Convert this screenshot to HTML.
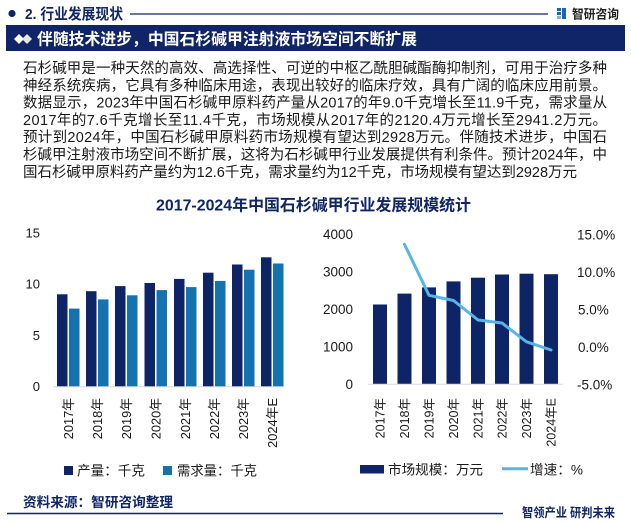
<!DOCTYPE html>
<html><head><meta charset="utf-8"><style>
html,body{margin:0;padding:0;background:#fff;}
svg{display:block;}
text{font-family:"Liberation Sans","Noto Sans CJK SC",sans-serif;}
</style></head><body>
<svg width="631" height="522" viewBox="0 0 631 522" xmlns="http://www.w3.org/2000/svg">
<rect width="631" height="522" fill="#fff"/>
<!-- header -->
<circle cx="12" cy="13.5" r="3.6" fill="#0f2567"/>
<text x="25" y="19" font-size="15" font-weight="bold" fill="#0f2567" textLength="98" lengthAdjust="spacingAndGlyphs">2. 行业发展现状</text>
<line x1="130" y1="14" x2="548" y2="14" stroke="#0f2567" stroke-width="1.3"/>
<g>
<rect x="557" y="8" width="4" height="3" fill="#1a66b5"/>
<rect x="557" y="12" width="4" height="3" fill="#1a66b5"/>
<rect x="557" y="16" width="4" height="3" fill="#7fb7e6"/>
<rect x="562" y="8" width="4" height="11" fill="#1a66b5"/>
</g>
<text x="572" y="18.5" font-size="12.5" font-weight="bold" fill="#222" textLength="47" lengthAdjust="spacingAndGlyphs">智研咨询</text>
<rect x="6" y="25" width="619" height="26" fill="#0f2567"/>
<polygon points="14,39 19,34 24,39 19,44" fill="#fff"/>
<polygon points="22,39 27,34 32,39 27,44" fill="#e6e6e6"/>
<text x="37" y="44.5" font-size="16" font-weight="bold" fill="#fff" textLength="380" lengthAdjust="spacingAndGlyphs">伴随技术进步，中国石杉碱甲注射液市场空间不断扩展</text>
<!-- paragraph -->
<g font-size="14.5" fill="#1a1a1a">
<text x="23" y="73" textLength="584" lengthAdjust="spacing">石杉碱甲是一种天然的高效、高选择性、可逆的中枢乙酰胆碱酯酶抑制剂，可用于治疗多种</text>
<text x="23" y="90.3" textLength="584" lengthAdjust="spacing">神经系统疾病，它具有多种临床用途，表现出较好的临床疗效，具有广阔的临床应用前景。</text>
<text x="23" y="107.6" textLength="584" lengthAdjust="spacing">数据显示，2023年中国石杉碱甲原料药产量从2017的年9.0千克增长至11.9千克，需求量从</text>
<text x="23" y="124.9" textLength="584" lengthAdjust="spacing">2017年的7.6千克增长至11.4千克，市场规模从2017年的2120.4万元增长至2941.2万元。</text>
<text x="23" y="142.2" textLength="584" lengthAdjust="spacing">预计到2024年，中国石杉碱甲原料药市场规模有望达到2928万元。伴随技术进步，中国石</text>
<text x="23" y="159.5" textLength="584" lengthAdjust="spacing">杉碱甲注射液市场空间不断扩展，这将为石杉碱甲行业发展提供有利条件。预计2024年，中</text>
<text x="23" y="176.8" textLength="554" lengthAdjust="spacing">国石杉碱甲原料药产量约为12.6千克，需求量约为12千克，市场规模有望达到2928万元</text>
</g>
<!-- chart title -->
<text x="156" y="210.5" font-size="16" font-weight="bold" fill="#0f2567" textLength="315" lengthAdjust="spacingAndGlyphs">2017-2024年中国石杉碱甲行业发展规模统计</text>

<!-- left chart -->
<g font-size="13" fill="#1a1a1a" text-anchor="end">
<text x="40" y="391">0</text>
<text x="40" y="339.8">5</text>
<text x="40" y="288.5">10</text>
<text x="40" y="237.3">15</text>
</g>
<g fill="#0d2466">
<rect x="57" y="294.3" width="10.5" height="92.2"/>
<rect x="86" y="291.2" width="10.5" height="95.3"/>
<rect x="115" y="286.1" width="10.5" height="100.4"/>
<rect x="144.5" y="283" width="10.5" height="103.5"/>
<rect x="174" y="278.9" width="10.5" height="107.6"/>
<rect x="203" y="272.7" width="10.5" height="113.8"/>
<rect x="232" y="264.5" width="10.5" height="122"/>
<rect x="261" y="257.3" width="10.5" height="129.2"/>
</g>
<g fill="#1472b1">
<rect x="69" y="308.6" width="10.5" height="77.9"/>
<rect x="98" y="299.4" width="10.5" height="87.1"/>
<rect x="127" y="295.3" width="10.5" height="91.2"/>
<rect x="156.5" y="290.1" width="10.5" height="96.4"/>
<rect x="186" y="287.1" width="10.5" height="99.4"/>
<rect x="215" y="280.9" width="10.5" height="105.6"/>
<rect x="244" y="269.7" width="10.5" height="116.8"/>
<rect x="273" y="263.5" width="10.5" height="123"/>
</g>
<line x1="53" y1="386.8" x2="284" y2="386.8" stroke="#d9d9d9" stroke-width="1"/>
<g font-size="12.8" fill="#1a1a1a" text-anchor="end">
<text transform="translate(72.8,398) rotate(-90)">2017年</text>
<text transform="translate(101.8,398) rotate(-90)">2018年</text>
<text transform="translate(130.8,398) rotate(-90)">2019年</text>
<text transform="translate(160.3,398) rotate(-90)">2020年</text>
<text transform="translate(189.8,398) rotate(-90)">2021年</text>
<text transform="translate(218.8,398) rotate(-90)">2022年</text>
<text transform="translate(247.8,398) rotate(-90)">2023年</text>
<text transform="translate(276.8,398) rotate(-90)">2024年E</text>
</g>
<rect x="64" y="466" width="9" height="9" fill="#0d2466"/>
<text x="77" y="475.5" font-size="13.5" fill="#1a1a1a" textLength="68" lengthAdjust="spacingAndGlyphs">产量：千克</text>
<rect x="163" y="466" width="9" height="9" fill="#1472b1"/>
<text x="177" y="475.5" font-size="13.5" fill="#1a1a1a" textLength="80" lengthAdjust="spacingAndGlyphs">需求量：千克</text>

<!-- right chart -->
<g font-size="13.5" fill="#1a1a1a" text-anchor="end">
<text x="353" y="388.8">0</text>
<text x="353" y="351.3">1000</text>
<text x="353" y="313.8">2000</text>
<text x="353" y="276.3">3000</text>
<text x="353" y="238.8">4000</text>
</g>
<g font-size="13.5" fill="#1a1a1a">
<text x="577" y="389.3">-5.0%</text>
<text x="578" y="351.8">0.0%</text>
<text x="578" y="314.3">5.0%</text>
<text x="577" y="276.8">10.0%</text>
<text x="577" y="239.3">15.0%</text>
</g>
<g fill="#0d2466">
<rect x="373" y="304.5" width="14" height="79.5"/>
<rect x="397.5" y="293.6" width="14" height="90.4"/>
<rect x="422" y="287.4" width="14" height="96.6"/>
<rect x="446.5" y="281.4" width="14" height="102.6"/>
<rect x="471" y="277.7" width="14" height="106.3"/>
<rect x="495" y="274.5" width="14" height="109.5"/>
<rect x="519.5" y="273.7" width="14" height="110.3"/>
<rect x="544" y="274.2" width="14" height="109.8"/>
</g>
<line x1="368" y1="384.3" x2="563" y2="384.3" stroke="#d9d9d9" stroke-width="1"/>
<polyline points="404.5,244.3 429,295.3 453.5,300.5 478,320 502,323 526.5,341.8 551,350" fill="none" stroke="#56b4e9" stroke-width="3" stroke-linejoin="round" stroke-linecap="round"/>
<g font-size="12.5" fill="#1a1a1a" text-anchor="end">
<text transform="translate(384.5,398) rotate(-90)">2017年</text>
<text transform="translate(409,398) rotate(-90)">2018年</text>
<text transform="translate(433.5,398) rotate(-90)">2019年</text>
<text transform="translate(458,398) rotate(-90)">2020年</text>
<text transform="translate(482.5,398) rotate(-90)">2021年</text>
<text transform="translate(506.5,398) rotate(-90)">2022年</text>
<text transform="translate(531,398) rotate(-90)">2023年</text>
<text transform="translate(555.5,398) rotate(-90)">2024年E</text>
</g>
<rect x="360" y="465" width="24" height="8.5" fill="#0d2466"/>
<text x="388" y="474.5" font-size="13.5" fill="#1a1a1a" textLength="95" lengthAdjust="spacingAndGlyphs">市场规模：万元</text>
<line x1="502" y1="468.8" x2="528" y2="468.8" stroke="#56b4e9" stroke-width="3"/>
<text x="530" y="474.5" font-size="13.5" fill="#1a1a1a" textLength="53" lengthAdjust="spacingAndGlyphs">增速：%</text>

<!-- footer -->
<text x="23" y="507" font-size="13.6" font-weight="bold" fill="#0f2567" textLength="150" lengthAdjust="spacingAndGlyphs">资料来源：智研咨询整理</text>
<line x1="7" y1="513.5" x2="503" y2="513.5" stroke="#0f2567" stroke-width="1.5"/>
<text x="522" y="517" font-size="12.5" font-weight="bold" fill="#0f2567" textLength="93" lengthAdjust="spacingAndGlyphs">智领产业 研判未来</text>
</svg>
</body></html>
